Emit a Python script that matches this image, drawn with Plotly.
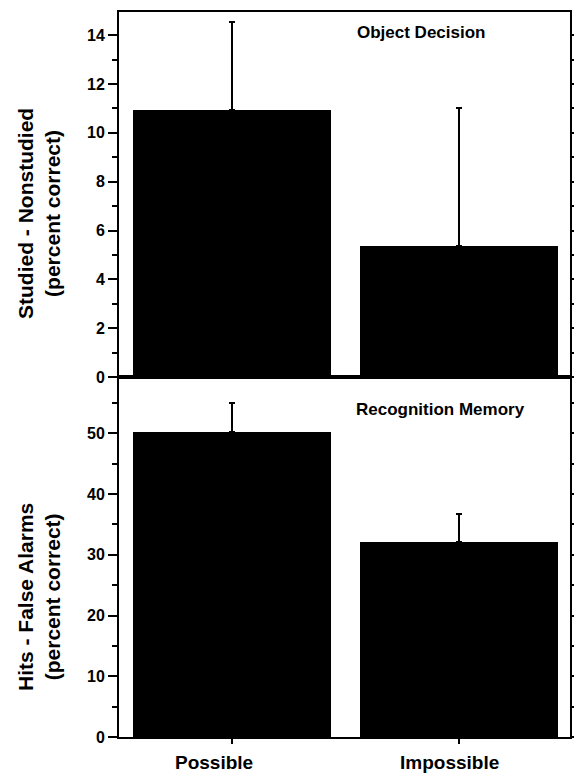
import plotly.graph_objects as go

categories = ["Possible", "Impossible"]
object_decision = [10.95, 5.37]
object_decision_err = [3.6, 5.65]
recognition = [50.2, 32.1]
recognition_err = [4.7, 4.6]
top_ticks = [0, 2, 4, 6, 8, 10, 12, 14]
bottom_ticks = [0, 10, 20, 30, 40, 50]

FONT = "Liberation Sans"
xpos = list(range(len(categories)))

fig = go.Figure()
fig.add_trace(go.Bar(
    x=xpos, y=object_decision, width=0.875,
    marker=dict(color="black", line=dict(width=0)),
    error_y=dict(type="data", array=object_decision_err, arrayminus=[0, 0],
                 symmetric=False, color="black", thickness=2, width=3),
    xaxis="x2", yaxis="y2", showlegend=False, hoverinfo="skip"))
fig.add_trace(go.Bar(
    x=xpos, y=recognition, width=0.875,
    marker=dict(color="black", line=dict(width=0)),
    error_y=dict(type="data", array=recognition_err, arrayminus=[0, 0],
                 symmetric=False, color="black", thickness=2, width=3),
    xaxis="x", yaxis="y", showlegend=False, hoverinfo="skip"))

split = 360 / 725
tickfont = dict(family=FONT, size=16, color="black", weight="bold")
axis_common = dict(showline=True, linecolor="black", linewidth=2, mirror="allticks",
                   showgrid=False, zeroline=False, ticks="outside", tickcolor="black",
                   tickwidth=2, ticklen=9, tickfont=tickfont, automargin=False)

fig.update_layout(
    width=574, height=775,
    margin=dict(l=119, r=4, t=12, b=38),
    paper_bgcolor="white", plot_bgcolor="white",
    bargap=0,
    xaxis=dict(domain=[0, 1], range=[-0.5, 1.49], anchor="y", automargin=False,
               showline=True, linecolor="black", linewidth=2, mirror=True,
               showgrid=False, zeroline=False, ticks="outside", tickcolor="black",
               tickwidth=2, ticklen=5, tickvals=xpos, showticklabels=False),
    yaxis=dict(domain=[0, split], range=[0, 59.26], tickvals=bottom_ticks,
               minor=dict(dtick=5, tick0=0, ticks="outside", ticklen=5, tickwidth=2,
                          tickcolor="black", showgrid=False),
               anchor="x", **axis_common),
    xaxis2=dict(domain=[0, 1], range=[-0.5, 1.49], anchor="y2", automargin=False,
                showline=True, linecolor="black", linewidth=2, mirror=True,
                showgrid=False, zeroline=False, ticks="", showticklabels=False),
    yaxis2=dict(domain=[split, 1], range=[0, 14.95], tickvals=top_ticks,
                minor=dict(dtick=1, tick0=0, ticks="outside", ticklen=5, tickwidth=2,
                           tickcolor="black", showgrid=False),
                anchor="x2", **axis_common),
)

def px_x(p):
    return (p - 119) / 451

def px_y(p):
    return (737 - p) / 725

ann = []
ann.append(dict(text="Studied - Nonstudied<br>(percent correct)", textangle=-90,
                xref="paper", yref="paper", x=px_x(39), y=px_y(214),
                xanchor="center", yanchor="middle", showarrow=False,
                font=dict(family=FONT, size=21, color="black", weight="bold")))
ann.append(dict(text="Hits - False Alarms<br>(percent correct)", textangle=-90,
                xref="paper", yref="paper", x=px_x(39), y=px_y(597),
                xanchor="center", yanchor="middle", showarrow=False,
                font=dict(family=FONT, size=21, color="black", weight="bold")))
ann.append(dict(text="Object Decision", xref="paper", yref="paper",
                x=px_x(421), y=px_y(32), xanchor="center", yanchor="middle",
                showarrow=False, font=dict(family=FONT, size=17, color="black", weight="bold")))
ann.append(dict(text="Recognition Memory", xref="paper", yref="paper",
                x=px_x(440), y=px_y(409), xanchor="center", yanchor="middle",
                showarrow=False, font=dict(family=FONT, size=17, color="black", weight="bold")))
label_centers = [214, 449]
for cat, cx in zip(categories, label_centers):
    ann.append(dict(text=cat, xref="paper", yref="paper", x=px_x(cx), y=px_y(763),
                    xanchor="center", yanchor="middle", showarrow=False,
                    font=dict(family=FONT, size=19, color="black", weight="bold")))
fig.update_layout(annotations=ann)

fig.write_html("out.html", config={"displayModeBar": False},
               post_script="document.body.style.margin='0';document.body.style.overflow='hidden';")
